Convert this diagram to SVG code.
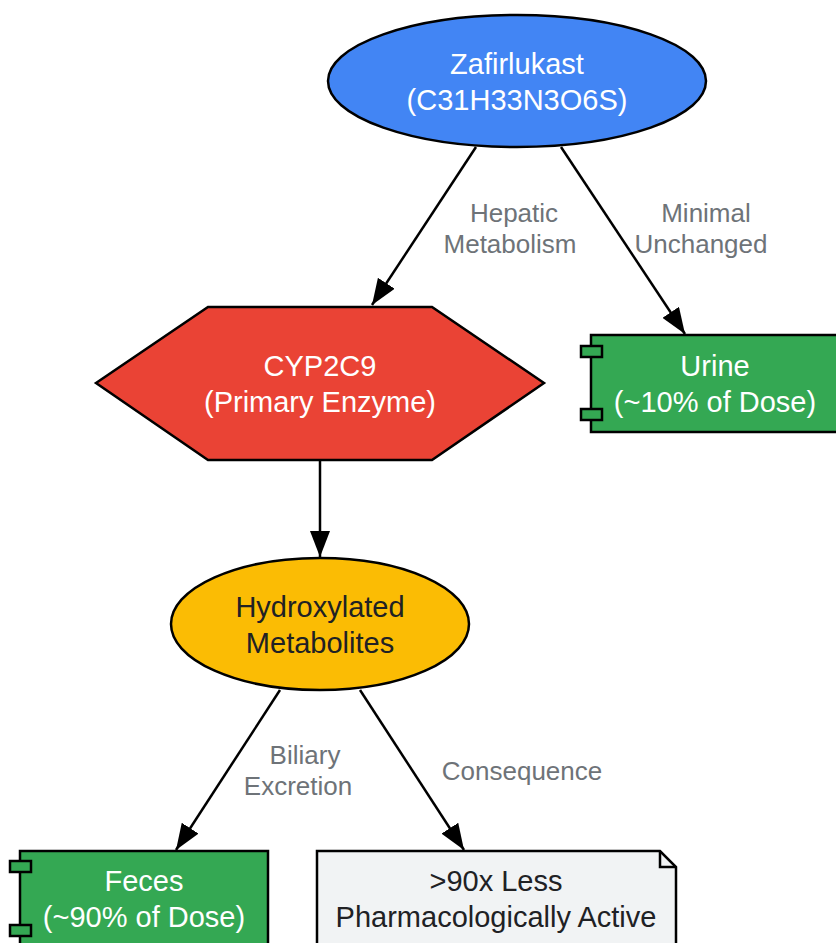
<svg xmlns="http://www.w3.org/2000/svg" width="836" height="943" viewBox="0 0 836 943">
<style>
.nt{font-family:"Liberation Sans",Arial,sans-serif;font-size:29px;text-anchor:middle}
.w{fill:#ffffff}
.d{fill:#202124}
.lb{font-family:"Liberation Sans",Arial,sans-serif;font-size:26px;text-anchor:middle;fill:#6e7378}
.sh{stroke:#000;stroke-width:2.5}
.e{stroke:#000;stroke-width:2.5;fill:none;marker-end:url(#ah)}
</style>
<defs>
<marker id="ah" markerUnits="userSpaceOnUse" viewBox="0 0 26 20" refX="26" refY="10" markerWidth="26" markerHeight="20" orient="auto">
<path d="M0,0 L26,10 L0,20 z" fill="#000"/>
</marker>
</defs>
<g id="connectors">
<line class="e" x1="476" y1="147" x2="372" y2="305"/>
<line class="e" x1="561" y1="147" x2="685" y2="334"/>
<line class="e" x1="320" y1="460" x2="320" y2="557"/>
<line class="e" x1="280" y1="690" x2="176" y2="850"/>
<line class="e" x1="360" y1="690" x2="464" y2="850"/>
<text class="lb" x="514" y="222">Hepatic</text>
<text class="lb" x="510" y="253">Metabolism</text>
<text class="lb" x="706" y="222">Minimal</text>
<text class="lb" x="701" y="253">Unchanged</text>
<text class="lb" x="305" y="764">Biliary</text>
<text class="lb" x="298" y="795">Excretion</text>
<text class="lb" x="522" y="780">Consequence</text>
</g>
<g id="zafirlukast">
<ellipse class="sh" cx="517" cy="81" rx="189" ry="66" fill="#4285F4"/>
<text class="nt w" x="517" y="74">Zafirlukast</text>
<text class="nt w" x="517" y="110">(C31H33N3O6S)</text>
</g>
<g id="cyp2c9">
<polygon class="sh" points="96,383 208,307 432,307 544,383 432,460 208,460" fill="#EA4335"/>
<text class="nt w" x="320" y="376">CYP2C9</text>
<text class="nt w" x="320" y="412">(Primary Enzyme)</text>
</g>
<g id="urine">
<rect class="sh" x="591" y="335" width="250" height="97" fill="#34A853"/>
<rect class="sh" x="581" y="346" width="21" height="11" fill="#34A853"/>
<rect class="sh" x="581" y="409" width="21" height="11" fill="#34A853"/>
<text class="nt w" x="715" y="376">Urine</text>
<text class="nt w" x="715" y="412">(~10% of Dose)</text>
</g>
<g id="metabolites">
<ellipse class="sh" cx="320" cy="624" rx="149" ry="66" fill="#FBBC04"/>
<text class="nt d" x="320" y="617">Hydroxylated</text>
<text class="nt d" x="320" y="653">Metabolites</text>
</g>
<g id="feces">
<rect class="sh" x="20" y="851" width="248" height="100" fill="#34A853"/>
<rect class="sh" x="10" y="861" width="21" height="11" fill="#34A853"/>
<rect class="sh" x="10" y="925" width="21" height="11" fill="#34A853"/>
<text class="nt w" x="144" y="891">Feces</text>
<text class="nt w" x="144" y="927">(~90% of Dose)</text>
</g>
<g id="activity">
<path class="sh" d="M317,851 L660,851 L676,867 L676,955 L317,955 Z" fill="#F1F3F4"/>
<path class="sh" d="M660,851 L660,867 L676,867" fill="none"/>
<text class="nt d" x="496" y="891">&gt;90x Less</text>
<text class="nt d" x="496" y="927">Pharmacologically Active</text>
</g>
</svg>
